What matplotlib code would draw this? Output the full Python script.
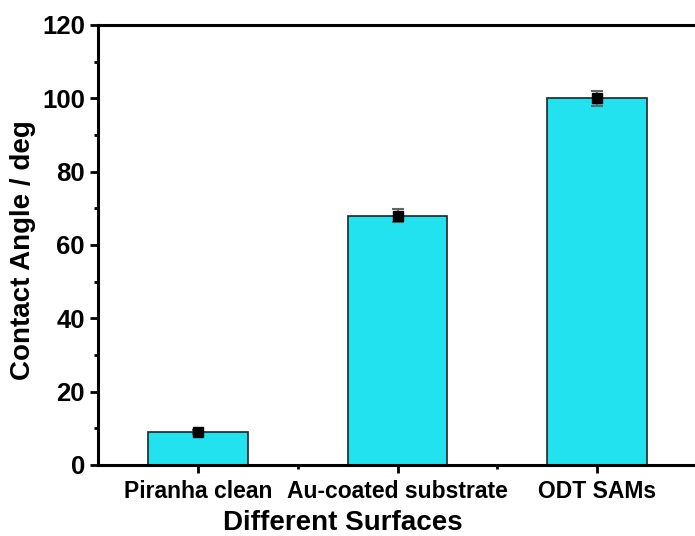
import matplotlib.pyplot as plt
from matplotlib.ticker import MultipleLocator, FixedLocator

plt.rcParams['font.family'] = ['Liberation Sans', 'DejaVu Sans']
plt.rcParams['font.weight'] = 'bold'

# Data
surfaces = ['Piranha clean', 'Au-coated substrate', 'ODT SAMs']
angles = [9, 68, 100]
errors = [0.6, 1.8, 2.0]
positions = [1, 2, 3]

fig = plt.figure(figsize=(6.95, 5.36), dpi=100)
ax = fig.add_axes([98 / 695, 71 / 536, 599 / 695, 440 / 536])

ax.bar(positions, angles, width=0.5, color='#22E2F0', edgecolor='#222222', linewidth=1.2, zorder=2)
ax.errorbar(positions, angles, yerr=errors, fmt='s', color='black', markersize=6.5,
            ecolor='#666666', elinewidth=1.2, capsize=4, capthick=1.5, zorder=3)

ax.set_xlim(0.5, 3.5)
ax.set_ylim(0, 120)
ax.set_xticks(positions)
ax.xaxis.set_minor_locator(FixedLocator([1.5, 2.5]))
ax.set_xticklabels(surfaces, fontsize=16.5, fontweight='bold')
ax.yaxis.set_major_locator(MultipleLocator(20))
ax.yaxis.set_minor_locator(MultipleLocator(10))
ax.tick_params(axis='y', which='major', labelsize=18.5, length=6, width=2, direction='out')
ax.tick_params(axis='both', which='minor', length=3, width=2, direction='out')
ax.tick_params(axis='x', which='major', length=6, width=2, direction='out', pad=5)

for lbl in ax.get_yticklabels():
    lbl.set_fontweight('bold')

for side in ['left', 'bottom', 'top', 'right']:
    ax.spines[side].set_linewidth(2.2)

ax.set_xlabel('Different Surfaces', fontsize=20, fontweight='bold')
ax.xaxis.label.set_verticalalignment('baseline')
ax.xaxis.set_label_coords((343 - 98) / 599, (465 - 530) / 440)
ax.set_ylabel('Contact Angle / deg', fontsize=20, fontweight='bold')
ax.yaxis.label.set_verticalalignment('center')
ax.yaxis.set_label_coords((23 - 98) / 599, (465 - 250) / 440)

fig.savefig('out.png', dpi=100)
